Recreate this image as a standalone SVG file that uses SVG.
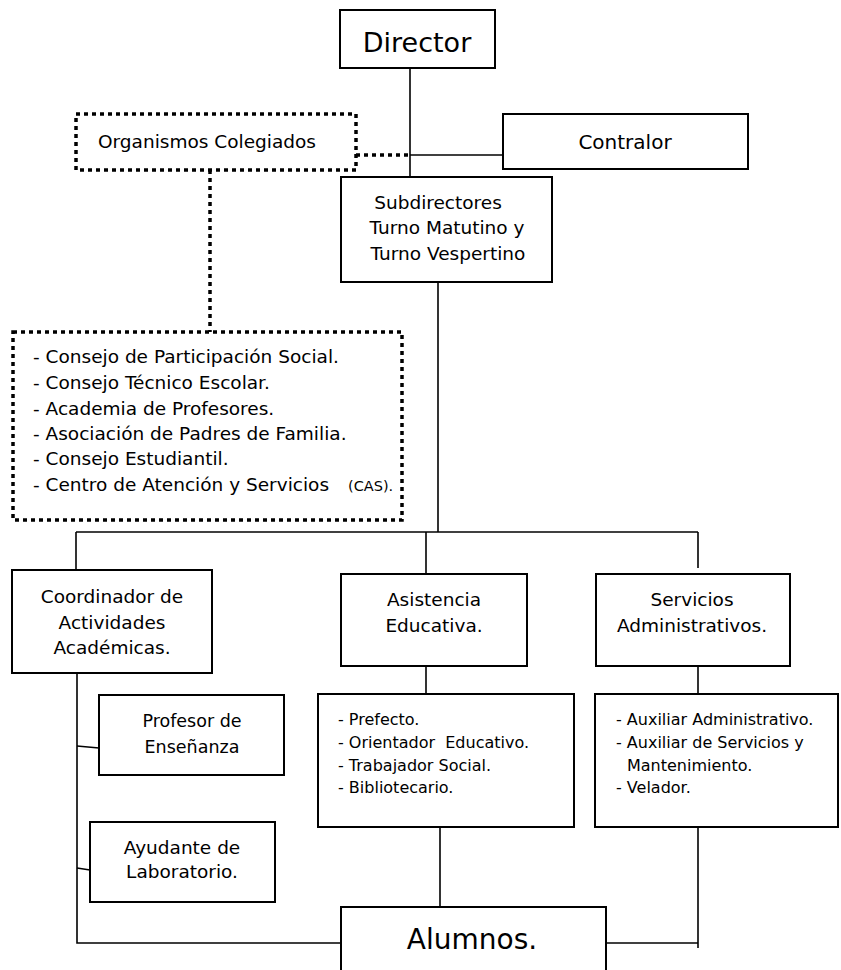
<svg xmlns="http://www.w3.org/2000/svg" width="841" height="970" viewBox="0 0 841 970">
<style>
text{font-family:"DejaVu Sans","Liberation Sans",sans-serif;fill:#000}
.box{fill:#fff;stroke:#000;stroke-width:2}
.dot{fill:none;stroke:#000;stroke-width:3.5;stroke-dasharray:4 4}
.ln{fill:none;stroke:#000;stroke-width:1.6}
.m{text-anchor:middle}
.t18{font-size:18.5px}
.t16{font-size:16px}
</style>
<rect width="841" height="970" fill="#fff"/>
<g id="connectors">
<path class="ln" d="M410,68V177"/>
<path class="dot" d="M356,155H410"/>
<path class="ln" d="M410,155H503"/>
<path class="dot" d="M210,170V332"/>
<path class="ln" d="M438,282V532"/>
<path class="ln" d="M76,532H698"/>
<path class="ln" d="M76,532V570"/>
<path class="ln" d="M426,532V574"/>
<path class="ln" d="M698,532V568"/>
<path class="ln" d="M426,666V694"/>
<path class="ln" d="M698,664V694"/>
<path class="ln" d="M77,673V943H341"/>
<path class="ln" d="M77,746L99,748"/>
<path class="ln" d="M77,868L90,870"/>
<path class="ln" d="M440,827V907"/>
<path class="ln" d="M606,943H698"/>
<path class="ln" d="M698,827V948"/>
</g>
<g id="director">
<rect class="box" x="340" y="10" width="155" height="58"/>
<text class="m" x="417" y="52" font-size="27">Director</text>
</g>
<g id="organismos">
<rect class="dot" x="76" y="114" width="280" height="56"/>
<text x="98" y="148" class="t18">Organismos Colegiados</text>
</g>
<g id="contralor">
<rect class="box" x="503" y="114" width="245" height="55"/>
<text class="m" x="625" y="149" font-size="20">Contralor</text>
</g>
<g id="subdirectores">
<rect class="box" x="341" y="177" width="211" height="105"/>
<text class="m t18" x="438" y="209">Subdirectores</text>
<text class="m t18" x="447" y="234">Turno Matutino y</text>
<text class="m t18" x="448" y="260">Turno Vespertino</text>
</g>
<g id="consejos">
<rect class="dot" x="13" y="332" width="389" height="188"/>
<text class="t18" x="33" y="363">- Consejo de Participación Social.</text>
<text class="t18" x="33" y="389">- Consejo Técnico Escolar.</text>
<text class="t18" x="33" y="415">- Academia de Profesores.</text>
<text class="t18" x="33" y="440">- Asociación de Padres de Familia.</text>
<text class="t18" x="33" y="465">- Consejo Estudiantil.</text>
<text class="t18" x="33" y="491">- Centro de Atención y Servicios <tspan x="348" font-size="14.5">(CAS).</tspan></text>
</g>
<g id="coordinador">
<rect class="box" x="12" y="570" width="200" height="103"/>
<text class="m t18" x="112" y="603">Coordinador de</text>
<text class="m t18" x="112" y="629">Actividades</text>
<text class="m t18" x="112" y="654">Académicas.</text>
</g>
<g id="asistencia">
<rect class="box" x="341" y="574" width="186" height="92"/>
<text class="m t18" x="434" y="606">Asistencia</text>
<text class="m t18" x="434" y="632">Educativa.</text>
</g>
<g id="servicios">
<rect class="box" x="596" y="574" width="194" height="92"/>
<text class="m t18" x="692" y="606">Servicios</text>
<text class="m t18" x="692" y="632">Administrativos.</text>
</g>
<g id="profesor">
<rect class="box" x="99" y="695" width="185" height="80"/>
<text class="m" x="192" y="727" font-size="17.5">Profesor de</text>
<text class="m" x="192" y="753" font-size="17.5">Enseñanza</text>
</g>
<g id="lista-asistencia">
<rect class="box" x="318" y="694" width="256" height="133"/>
<text class="t16" x="338" y="725">- Prefecto.</text>
<text class="t16" x="338" y="748" xml:space="preserve">- Orientador  Educativo.</text>
<text class="t16" x="338" y="771">- Trabajador Social.</text>
<text class="t16" x="338" y="793">- Bibliotecario.</text>
</g>
<g id="lista-servicios">
<rect class="box" x="595" y="694" width="243" height="133"/>
<text class="t16" x="616" y="725">- Auxiliar Administrativo.</text>
<text class="t16" x="616" y="748">- Auxiliar de Servicios y</text>
<text class="t16" x="627" y="771">Mantenimiento.</text>
<text class="t16" x="616" y="793">- Velador.</text>
</g>
<g id="ayudante">
<rect class="box" x="90" y="822" width="185" height="80"/>
<text class="m t18" x="182" y="854">Ayudante de</text>
<text class="m t18" x="182" y="878">Laboratorio.</text>
</g>
<g id="alumnos">
<path class="box" d="M341,975V907H606V975"/>
<text class="m" x="472" y="949" font-size="28">Alumnos.</text>
</g>
</svg>
